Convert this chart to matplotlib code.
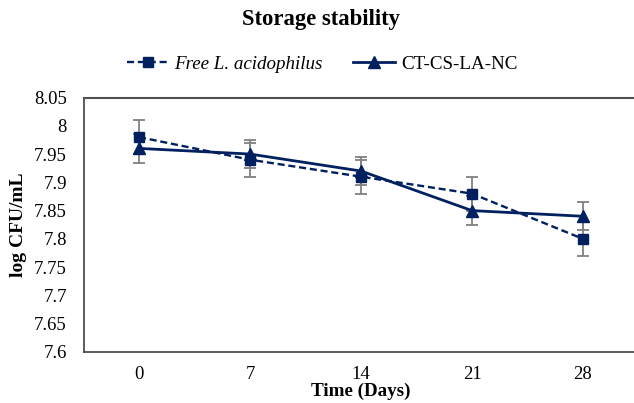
import numpy as np
import matplotlib.pyplot as plt
from matplotlib.lines import Line2D

plt.rcParams['font.family'] = ['Liberation Serif', 'DejaVu Serif']

# Datos
dias = ['0', '7', '14', '21', '28']
libre = [7.98, 7.94, 7.91, 7.88, 7.80]
libre_err = [0.03, 0.03, 0.03, 0.03, 0.03]
nc = [7.96, 7.95, 7.92, 7.85, 7.84]
nc_err = [0.025, 0.025, 0.025, 0.025, 0.025]

azul = '#002060'
gris = '#808080'

fig = plt.figure(figsize=(6.34, 4.03), dpi=100)
ax = fig.add_axes([83.5/634, 51/403, 555/634, 254.5/403])

x = np.arange(len(dias))
ax.errorbar(x, libre, yerr=libre_err, fmt='none', ecolor=gris, elinewidth=1.3,
            capsize=4, capthick=1.3, zorder=2)
ax.errorbar(x, nc, yerr=nc_err, fmt='none', ecolor=gris, elinewidth=1.3,
            capsize=4, capthick=1.3, zorder=2)
ax.plot(x, libre, color=azul, ls=(0, (3, 1.6)), lw=1.7, marker='s', ms=7, zorder=3)
ax.plot(x, nc, color=azul, ls='-', lw=2.0, marker='^', ms=8, zorder=3)

ax.set_xlim(-0.5, len(dias) - 0.5)
ax.set_ylim(7.6, 8.05)
ax.set_xticks(x)
ax.set_xticklabels(dias)
yt = np.arange(7.6, 8.051, 0.05)
ax.set_yticks(yt)
ax.set_yticklabels([f'{v:.2f}'.rstrip('0').rstrip('.') for v in yt])
ax.tick_params(length=0, labelsize=13.5)
ax.tick_params(axis='y', pad=12)
ax.tick_params(axis='x', pad=10)
for s in ['left', 'bottom']:
    ax.spines[s].set_color('#404040')
    ax.spines[s].set_linewidth(1.2)
ax.spines['top'].set_color('#505050')
ax.spines['top'].set_linewidth(1.5)
ax.spines['right'].set_visible(False)

ax.set_xlabel('Time (Days)', fontsize=13.7, fontweight='bold', labelpad=0)
fig.text(19/634, 1 - 225/403, 'log CFU/mL', rotation=90, ha='center', va='center',
         fontsize=14, fontweight='bold')

fig.text(321/634, 1 - 19/403, 'Storage stability', ha='center', va='center',
         fontsize=16.3, fontweight='bold')

h1 = Line2D([], [], color=azul, ls=(0, (3, 1.6)), lw=1.7, marker='s', ms=7)
h2 = Line2D([], [], color=azul, ls='-', lw=2.0, marker='^', ms=8)
leg = fig.legend([h1, h2], ['Free L. acidophilus', 'CT-CS-LA-NC'],
                 loc='center', bbox_to_anchor=(322/634, 1 - 64/403), ncol=2,
                 frameon=False, fontsize=13.7, handlelength=2.2, columnspacing=1.6,
                 handletextpad=0.3)
leg.get_texts()[0].set_style('italic')

fig.savefig('out.png', dpi=100)
